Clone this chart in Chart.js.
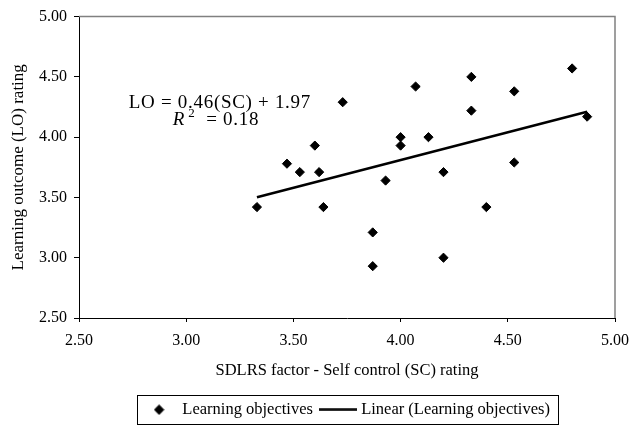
<!DOCTYPE html>
<html><head><meta charset="utf-8">
<script src="https://cdn.jsdelivr.net/npm/chart.js@4/dist/chart.umd.min.js"></script>
<style>html,body{margin:0;padding:0;background:#fff}</style>
</head><body>
<canvas id="c" width="638" height="428"></canvas>
<script>
// ---- data ----
const scRatings = [3.33,3.47,3.53,3.60,3.62,3.64,3.73,3.87,3.87,3.93,4.00,4.00,4.07,4.13,4.20,4.20,4.33,4.33,4.40,4.53,4.53,4.80,4.87];
const loRatings = [3.42,3.78,3.71,3.93,3.71,3.42,4.29,3.21,2.93,3.64,4.00,3.93,4.42,4.00,3.71,3.00,4.50,4.22,3.42,4.38,3.79,4.57,4.17];
const trendSlope = 0.46;
const trendIntercept = 1.97;
const trendEnds = [3.33, 4.87];
const xTickValues = [2.50, 3.00, 3.50, 4.00, 4.50, 5.00];
const yTickValues = [2.50, 3.00, 3.50, 4.00, 4.50, 5.00];
const seriesNames = ['Learning objectives', 'Linear (Learning objectives)'];
const xTitle = 'SDLRS factor - Self control (SC) rating';
const yTitle = 'Learning outcome (LO) rating';
const equationText = 'LO = 0.46(SC) + 1.97';
const rSquaredText = '0.18';

const FONT = '"Liberation Serif", "Times New Roman", serif';

const scatterPoints = scRatings.map((x, i) => ({x, y: loRatings[i]}));
const trendPoints = trendEnds.map(x => ({x, y: trendSlope * x + trendIntercept}));

// legend marker images
const diamondImg = document.createElement('canvas');
diamondImg.width = 11; diamondImg.height = 11;
(function(){const g = diamondImg.getContext('2d'); g.fillStyle = '#000'; g.beginPath();
 g.moveTo(5.5,0.3); g.lineTo(10.7,5.5); g.lineTo(5.5,10.7); g.lineTo(0.3,5.5); g.closePath(); g.fill();})();
const lineImg = document.createElement('canvas');
lineImg.width = 38; lineImg.height = 3;
(function(){const g = lineImg.getContext('2d'); g.fillStyle = '#000'; g.fillRect(0,0.25,38,2.5);})();

const framePlugin = {
  id: 'frame',
  afterDraw(chart) {
    const {ctx, chartArea: a} = chart;
    ctx.save();
    ctx.strokeStyle = '#808080'; ctx.lineWidth = 1.5;
    ctx.beginPath();
    ctx.moveTo(a.left, a.top); ctx.lineTo(a.right, a.top); ctx.lineTo(a.right, a.bottom);
    ctx.stroke();
    // legend border
    const hb = chart.legend.legendHitBoxes;
    if (hb && hb.length) {
      const l = hb[0].left - 7, r = hb[hb.length-1].left + hb[hb.length-1].width + 8;
      const cy = hb[0].top + hb[0].height / 2;
      ctx.strokeStyle = '#000'; ctx.lineWidth = 1;
      ctx.strokeRect(Math.round(l)+0.5, Math.round(cy-14.5)+0.5, Math.round(r-l), 29);
    }
    ctx.restore();
  }
};

const annotationPlugin = {
  id: 'eqLabel',
  afterDatasetsDraw(chart) {
    const {ctx, scales: {x, y}} = chart;
    ctx.save();
    ctx.fillStyle = '#000';
    ctx.textBaseline = 'alphabetic';
    ctx.textAlign = 'center';
    ctx.font = '19px ' + FONT;
    if ('letterSpacing' in ctx) ctx.letterSpacing = '0.7px';
    ctx.fillText(equationText, x.getPixelForValue(3.157), y.getPixelForValue(4.241));
    // R^2 line
    const bx = x.getPixelForValue(3.139), by = y.getPixelForValue(4.098);
    ctx.textAlign = 'left';
    ctx.font = 'italic 19px ' + FONT;
    const wR = ctx.measureText('R').width;
    ctx.font = '13px ' + FONT;
    const w2 = ctx.measureText('2').width;
    ctx.font = '19px ' + FONT;
    const rest = '  = ' + rSquaredText;
    const wRest = ctx.measureText(rest).width;
    const total = wR + 3 + w2 + wRest;
    let cx = bx - total / 2;
    ctx.font = 'italic 19px ' + FONT;
    ctx.fillText('R', cx, by); cx += wR + 3;
    ctx.font = '13px ' + FONT;
    ctx.fillText('2', cx, by - 8); cx += w2;
    ctx.font = '19px ' + FONT;
    ctx.fillText(rest, cx, by);
    ctx.restore();
  }
};

new Chart(document.getElementById('c'), {
  type: 'scatter',
  data: {
    datasets: [
      {
        label: seriesNames[0],
        data: scatterPoints,
        pointStyle: 'rectRot',
        pointRadius: 4.6,
        pointBorderWidth: 1,
        backgroundColor: '#000',
        borderColor: '#000'
      },
      {
        label: seriesNames[1],
        data: trendPoints,
        showLine: true,
        pointRadius: 0,
        borderColor: '#000',
        backgroundColor: '#000',
        borderWidth: 2.5
      }
    ]
  },
  options: {
    responsive: false,
    animation: false,
    devicePixelRatio: 1,
    layout: {padding: {left: 0, right: 15, top: 15, bottom: 0}},
    plugins: {
      tooltip: {enabled: false},
      legend: {
        position: 'bottom',
        fullSize: false,
        labels: {
          usePointStyle: true,
          pointStyleWidth: 30,
          padding: 10,
          color: '#000',
          font: {family: FONT, size: 16.5},
          generateLabels(chart) {
            const items = Chart.defaults.plugins.legend.labels.generateLabels(chart);
            items.sort((a, b) => a.datasetIndex - b.datasetIndex);
            items.forEach(it => { it.pointStyle = it.datasetIndex === 0 ? diamondImg : lineImg; });
            return items;
          }
        }
      }
    },
    scales: {
      x: {
        type: 'linear', position: 'bottom', min: 2.5, max: 5,
        afterBuildTicks(s) { s.ticks = xTickValues.map(v => ({value: v})); },
        afterFit(s) { s.height = 73.5; },
        ticks: {color: '#000', font: {family: FONT, size: 16}, padding: 9,
          callback: v => Number(v).toFixed(2), autoSkip: false, maxRotation: 0},
        grid: {drawOnChartArea: false, drawTicks: true, tickLength: 4, color: '#000'},
        border: {display: true, color: '#000', width: 1},
        title: {display: true, text: xTitle, color: '#000', font: {family: FONT, size: 16.5}, padding: {top: 0, bottom: 10.5}}
      },
      y: {
        type: 'linear', position: 'left', min: 2.5, max: 5,
        afterBuildTicks(s) { s.ticks = yTickValues.map(v => ({value: v})); },
        afterFit(s) { s.width = 79; },
        ticks: {color: '#000', font: {family: FONT, size: 16}, padding: 7,
          callback: v => Number(v).toFixed(2), autoSkip: false},
        grid: {drawOnChartArea: false, drawTicks: true, tickLength: 5, color: '#000'},
        border: {display: true, color: '#000', width: 1},
        title: {display: true, text: yTitle, color: '#000', font: {family: FONT, size: 17}, padding: {top: 8, bottom: 0}}
      }
    }
  },
  plugins: [framePlugin, annotationPlugin]
});
</script>
</body></html>
